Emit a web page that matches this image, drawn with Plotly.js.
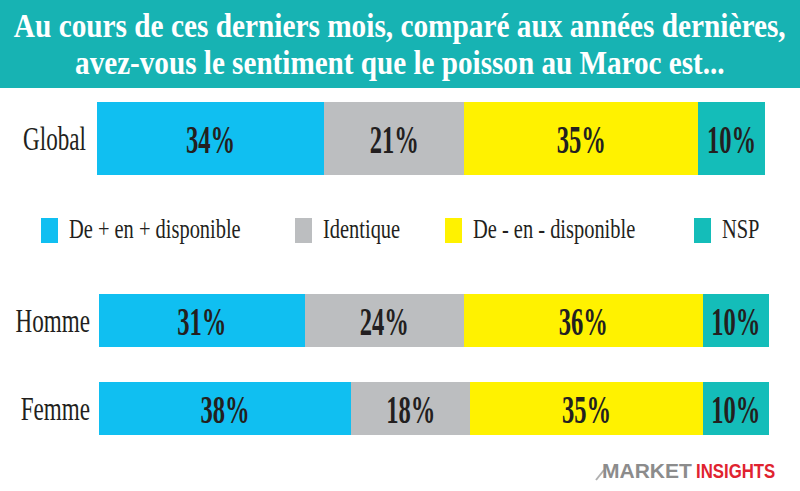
<!DOCTYPE html>
<html>
<head>
<meta charset="utf-8">
<script src="https://cdn.plot.ly/plotly-3.0.1.min.js"></script>
<style>
  html, body { margin: 0; padding: 0; background: #ffffff; }
  #chart { width: 800px; height: 491px; }
</style>
</head>
<body>
<div id="chart"></div>
<script>
// Survey answers, in percent, per population group
const categories = ['Global', 'Homme', 'Femme'];
const seriesNames = ['De + en + disponible', 'Identique', 'De - en - disponible', 'NSP'];
const plusDisponible = [34, 31, 38];
const identique = [21, 24, 18];
const moinsDisponible = [35, 36, 35];
const nsp = [10, 10, 10];
const seriesValues = [plusDisponible, identique, moinsDisponible, nsp];
const seriesColors = ['#10bff1', '#bcbec0', '#fff200', '#14bdb9'];

const titleLines = [
  'Au cours de ces derniers mois, comparé aux années dernières,',
  'avez-vous le sentiment que le poisson au Maroc est...'
];
const brandParts = ['MARKET', 'INSIGHTS'];

// Pixel helpers for the 800x491 canvas
const W = 800, H = 491;
const px = p => p / W;
const py = p => 1 - p / H;

const INK = '#231f20';
const SERIF = 'Liberation Serif, Times New Roman, serif';

// Global on its own row at the top, Homme/Femme in a second panel under the legend
const panels = [
  { rows: [0], xaxis: 'x', yaxis: 'y', barWidth: 1 },
  { rows: [1, 2], xaxis: 'x2', yaxis: 'y2', barWidth: 0.6 }
];

const totals = categories.map((_, i) => seriesValues.reduce((s, v) => s + v[i], 0));

const traces = [];
panels.forEach(panel => {
  seriesValues.forEach((vals, s) => {
    traces.push({
      type: 'bar',
      orientation: 'h',
      name: seriesNames[s],
      x: panel.rows.map(i => vals[i]),
      y: panel.rows.map(i => categories[i]),
      xaxis: panel.xaxis,
      yaxis: panel.yaxis,
      width: panel.barWidth,
      marker: { color: seriesColors[s], line: { width: 0 } },
      texttemplate: '%{x}%',
      textposition: 'inside',
      insidetextanchor: 'middle',
      textangle: 0,
      constraintext: 'none',
      textfont: { family: SERIF, size: 41, color: INK, weight: 'bold' },
      hoverinfo: 'skip',
      showlegend: false
    });
  });
});

const panelTotal = rows => Math.max(...rows.map(i => totals[i]));

const tickStyle = { family: SERIF, size: 34, color: INK };

// Hand-built legend row between the two panels
const legendX = [41, 295, 445, 694];
const legendShapes = seriesNames.map((_, s) => ({
  type: 'rect', xref: 'paper', yref: 'paper',
  x0: px(legendX[s]), x1: px(legendX[s] + 17),
  y0: py(243), y1: py(218),
  fillcolor: seriesColors[s], line: { width: 0 }
}));
const legendLabels = seriesNames.map((name, s) => ({
  xref: 'paper', yref: 'paper',
  x: px(legendX[s] + 26), y: py(229),
  xanchor: 'left', yanchor: 'middle', align: 'left',
  text: name, showarrow: false,
  font: { family: SERIF, size: 28, color: INK }
}));

const titleAnnotations = titleLines.map((line, k) => ({
  xref: 'paper', yref: 'paper',
  x: 0.5, y: py(k === 0 ? 25 : 62),
  xanchor: 'center', yanchor: 'middle', align: 'center',
  text: line, showarrow: false,
  font: { family: SERIF, size: 34, color: '#ffffff', weight: 'bold' }
}));

const brandFont = 'Liberation Sans, Arial, sans-serif';
const brandAnnotations = [
  {
    xref: 'paper', yref: 'paper', x: px(600), y: py(470),
    xanchor: 'left', yanchor: 'middle', align: 'left',
    text: brandParts[0], showarrow: false,
    font: { family: brandFont, size: 21, color: '#8c8c8c', weight: 'bold' }
  },
  {
    xref: 'paper', yref: 'paper', x: px(694), y: py(470),
    xanchor: 'left', yanchor: 'middle', align: 'left',
    text: brandParts[1], showarrow: false,
    font: { family: brandFont, size: 21, color: '#e0232f', weight: 'bold' }
  }
];

const layout = {
  width: W, height: H,
  margin: { l: 0, r: 0, t: 0, b: 0, pad: 0 },
  paper_bgcolor: '#ffffff',
  plot_bgcolor: 'rgba(0,0,0,0)',
  barmode: 'stack',
  showlegend: false,
  xaxis: {
    domain: [px(97), px(765)], range: [0, panelTotal(panels[0].rows)],
    visible: false, fixedrange: true
  },
  yaxis: {
    domain: [py(175), py(102)], type: 'category', range: [-0.5, 0.5],
    showgrid: false, zeroline: false, showline: false, ticks: '',
    tickfont: tickStyle, ticklabelstandoff: 10, fixedrange: true
  },
  xaxis2: {
    anchor: 'y2', domain: [px(99), px(769)], range: [0, panelTotal(panels[1].rows)],
    visible: false, fixedrange: true
  },
  yaxis2: {
    anchor: 'x2', domain: [py(452.5), py(276.5)], type: 'category', range: [1.5, -0.5],
    showgrid: false, zeroline: false, showline: false, ticks: '',
    tickfont: tickStyle, ticklabelstandoff: 8, fixedrange: true
  },
  shapes: [
    {
      type: 'rect', xref: 'paper', yref: 'paper', layer: 'below',
      x0: 0, x1: 1, y0: py(88), y1: 1,
      fillcolor: '#17b3b3', line: { width: 0 }
    },
    {
      type: 'path', xref: 'paper', yref: 'paper',
      path: 'M' + px(596) + ',' + py(480) + ' L' + px(604) + ',' + py(470),
      line: { color: '#b0b0b0', width: 2 }
    },
    ...legendShapes
  ],
  annotations: [...titleAnnotations, ...legendLabels, ...brandAnnotations]
};

// Narrow the serif lettering to a condensed newspaper look: a horizontal
// scale about each text's own anchor point
function condense(nodes, ratio, target) {
  nodes.forEach((n, i) => {
    const w = n.getComputedTextLength();
    const r = target ? target[i] / w : ratio;
    const ax = parseFloat(n.getAttribute('x')) || 0;
    const prev = n.getAttribute('transform') || '';
    n.setAttribute('transform',
      (prev + ' translate(' + ax + ',0) scale(' + r + ',1) translate(' + (-ax) + ',0)').trim());
  });
}

Plotly.newPlot('chart', traces, layout, { displayModeBar: false, staticPlot: true }).then(gd => {
  const ann = Array.from(gd.querySelectorAll('.annotation-text'));
  condense(ann.slice(0, 2), null, [772, 650]);
  condense(ann.slice(2, 6), 0.73);
  condense(ann.slice(7, 8), 0.8);
  condense(Array.from(gd.querySelectorAll('text.bartext')), 0.6);
  condense(Array.from(gd.querySelectorAll('.ytick text, .y2tick text')), 0.68);
});
</script>
</body>
</html>
